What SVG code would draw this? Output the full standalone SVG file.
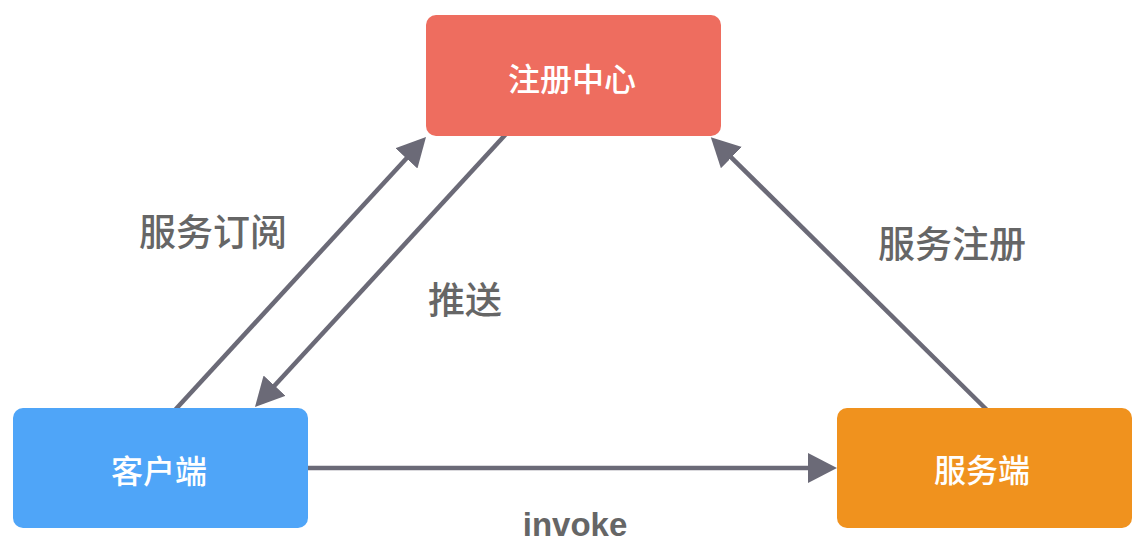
<svg xmlns="http://www.w3.org/2000/svg" width="1143" height="543" viewBox="0 0 1143 543">
<style>
.node-text{font-family:"PingFang SC","Noto Sans CJK SC","Noto Sans",sans-serif;font-size:32px;font-weight:500;fill:#ffffff;text-anchor:middle}
.label{font-family:"Noto Sans CJK SC","Liberation Sans",sans-serif;font-size:37px;font-weight:500;fill:#666666;text-anchor:middle}
.edge{stroke:#6b6a77;stroke-width:4.5;fill:none;marker-end:url(#arrow)}
</style>
<defs>
<marker id="arrow" markerUnits="userSpaceOnUse" viewBox="0 0 30 30" markerWidth="30" markerHeight="30" refX="21" refY="15" orient="auto">
<path d="M0,0 L29,15 L0,30 z" fill="#6b6a77"/>
</marker>
</defs>
<rect width="1143" height="543" fill="#ffffff"/>
<g id="connectors">
<line class="edge" x1="175" y1="410" x2="420.6" y2="142.9"/>
<line class="edge" x1="506" y1="134" x2="260.4" y2="401.1"/>
<line class="edge" x1="987" y1="410" x2="716.5" y2="142.8"/>
<line class="edge" x1="308" y1="468" x2="829" y2="468"/>
</g>
<g id="registry">
<rect x="426" y="15" width="295" height="121" rx="10" fill="#ee6d5f"/>
<text class="node-text" x="572" y="91">注册中心</text>
</g>
<g id="client">
<rect x="13" y="408" width="295" height="120" rx="10" fill="#4fa5f8"/>
<text class="node-text" x="159" y="483">客户端</text>
</g>
<g id="server">
<rect x="837" y="408" width="295" height="120" rx="10" fill="#f0921e"/>
<text class="node-text" x="982" y="482">服务端</text>
</g>
<g id="labels">
<text class="label" x="213" y="246">服务订阅</text>
<text class="label" x="465" y="314">推送</text>
<text class="label" x="952" y="258">服务注册</text>
<text class="label" x="575" y="536" style="font-family:'Liberation Sans',sans-serif;font-size:33px;font-weight:bold">invoke</text>
</g>
</svg>
